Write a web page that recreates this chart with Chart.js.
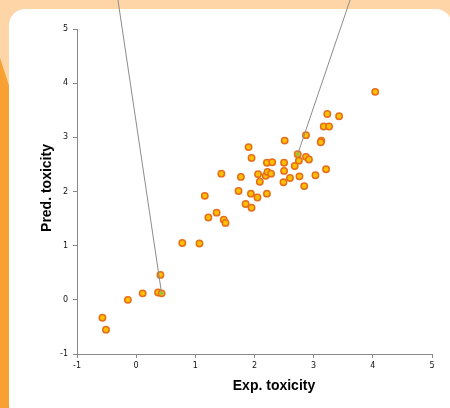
<!DOCTYPE html>
<html>
<head>
<meta charset="utf-8">
<script src="https://cdn.jsdelivr.net/npm/chart.js@4"></script>
<style>
  html, body { margin: 0; padding: 0; }
  body { width: 450px; height: 408px; overflow: hidden; background: #fdd5a6; position: relative; }
  #stripe { position: absolute; left: 0; top: 0; width: 30px; height: 408px; background: #f8a032;
            clip-path: polygon(0 58px, 30px 150px, 30px 408px, 0 408px); }
  #card { position: absolute; left: 9px; top: 9px; width: 443px; height: 412px; background: #fff; border-radius: 16px; }
  #wrap { position: absolute; left: 0; top: 0; width: 450px; height: 408px; }
</style>
</head>
<body>
<div id="stripe"></div>
<div id="card"></div>
<div id="wrap"><canvas id="myChart"></canvas></div>
<script>
"use strict";

const expTox = [4.04, 3.23, 3.43, 3.17, 3.26, 2.87, 3.13, 3.12, 2.51, 1.90,
  1.95, 2.73, 2.75, 2.87, 2.92, 2.21, 2.30, 2.50, 2.68, 2.50,
  3.21, 1.77, 2.06, 2.19, 2.22, 2.28, 2.09, 2.60, 2.49, 2.76,
  3.03, 2.84, 1.73, 1.94, 2.05, 2.21, 1.85, 1.95, 1.44, 1.16,
  1.36, 1.22, 1.48, 1.51, 0.78, 1.07, 0.41, 0.37, 0.43, 0.11,
  -0.14, -0.57, -0.51];
const predTox = [3.84, 3.43, 3.39, 3.20, 3.20, 3.04, 2.94, 2.91, 2.94, 2.82,
  2.62, 2.69, 2.57, 2.64, 2.59, 2.53, 2.54, 2.53, 2.47, 2.38,
  2.41, 2.27, 2.32, 2.29, 2.36, 2.33, 2.18, 2.25, 2.17, 2.28,
  2.30, 2.10, 2.01, 1.96, 1.89, 1.96, 1.77, 1.70, 2.33, 1.92,
  1.61, 1.52, 1.48, 1.42, 1.05, 1.04, 0.46, 0.135, 0.12, 0.12,
  0.00, -0.33, -0.55];

// Leader lines pointing at two compounds (top end runs off the plot)
const leaderA = [{ x: -0.31, y: 5.55 }, { x: 0.43, y: 0.12 }];
const leaderB = [{ x: 3.62, y: 5.55 }, { x: 2.73, y: 2.69 }];

const axisMin = -1;
const axisMax = 5;

// Axis titles drawn at their spot in the picture
const axisTitles = {
  id: "axisTitles",
  afterDraw(chart) {
    const ctx = chart.ctx;
    ctx.save();
    ctx.fillStyle = "#000";
    ctx.font = "bold 14px 'Liberation Sans', Arial, sans-serif";
    ctx.textAlign = "center";
    ctx.textBaseline = "middle";
    ctx.fillText("Exp. toxicity", 274, 386);
    ctx.translate(47, 188);
    ctx.rotate(-Math.PI / 2);
    ctx.fillText("Pred. toxicity", 0, 0);
    ctx.restore();
  },
};

const ctx = document.getElementById("myChart").getContext("2d");
const myChart = new Chart(ctx, {
  type: "scatter",
  data: {
    datasets: [
      {
        data: leaderA,
        type: "line",
        borderColor: "#8c8c8c",
        borderWidth: 1,
        pointRadius: [0, 1.8],
        pointBackgroundColor: "#92c83e",
        pointBorderWidth: 0,
        clip: false,
        order: 0,
      },
      {
        data: leaderB,
        type: "line",
        borderColor: "#8c8c8c",
        borderWidth: 1,
        pointRadius: [0, 1.8],
        pointBackgroundColor: "#92c83e",
        pointBorderWidth: 0,
        clip: false,
        order: 0,
      },
      {
        data: expTox.map((x, i) => ({ x: x, y: predTox[i] })),
        backgroundColor: "#ffbf00",
        borderColor: "#e56e1c",
        borderWidth: 1.5,
        pointRadius: 3.2,
        order: 1,
      },
    ],
  },
  options: {
    responsive: true,
    maintainAspectRatio: false,
    animation: false,
    layout: { padding: { left: 0, top: 29, right: 18, bottom: 0 } },
    plugins: {
      legend: { display: false },
      tooltip: { enabled: false },
    },
    scales: {
      x: {
        min: axisMin,
        max: axisMax,
        afterFit: (scale) => { scale.height = 54; },
        grid: { drawOnChartArea: false, tickLength: 4, color: "#888" },
        border: { color: "#888", width: 1 },
        ticks: { stepSize: 1, padding: 3, color: "#111", font: { family: "DejaVu Sans", size: 8 } },
      },
      y: {
        min: axisMin,
        max: axisMax,
        afterFit: (scale) => { scale.width = 77; },
        grid: { drawOnChartArea: false, tickLength: 4, color: "#888" },
        border: { color: "#888", width: 1 },
        ticks: { stepSize: 1, padding: 5, color: "#111", font: { family: "DejaVu Sans", size: 8 } },
      },
    },
  },
  plugins: [axisTitles],
});
</script>
</body>
</html>
